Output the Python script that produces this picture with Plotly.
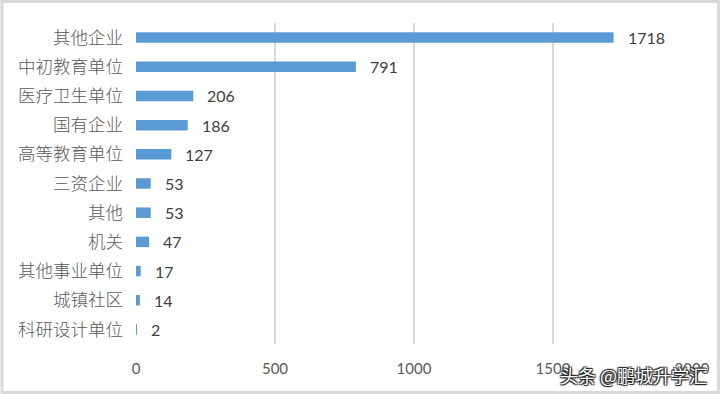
import plotly.graph_objects as go

categories = ["其他企业", "中初教育单位", "医疗卫生单位", "国有企业", "高等教育单位",
              "三资企业", "其他", "机关", "其他事业单位", "城镇社区", "科研设计单位"]
values = [1718, 791, 206, 186, 127, 53, 53, 47, 17, 14, 2]
x_ticks = [0, 500, 1000, 1500, 2000]

W, H = 722, 394
L, R, T, B = 136, 28, 23, 50

fig = go.Figure(go.Bar(
    y=categories, x=values, orientation="h",
    marker=dict(color="#5B9BD5", line=dict(width=0)),
    hoverinfo="skip",
))

annotations = []
for c, v in zip(categories, values):
    annotations.append(dict(
        x=v, y=c, xref="x", yref="y", text=str(v), showarrow=False,
        xanchor="left", xshift=12,
        font=dict(family="Lato, Open Sans, sans-serif", size=16, color="#404040"),
    ))

pw = W - L - R
ph = H - T - B
annotations.append(dict(
    x=(W - 11 - L) / pw, y=(H - 375 - B) / ph, xref="paper", yref="paper",
    text="头条 @鹏城升学汇", showarrow=False, xanchor="right", yanchor="middle",
    font=dict(family="Noto Sans CJK SC", size=18, color="white",
              shadow="1px 1px 1px #222, -1px -1px 1px #222, 1px -1px 1px #222, -1px 1px 1px #222"),
))

fig.update_layout(
    width=W, height=H,
    margin=dict(l=L, r=R, t=T, b=B, pad=0),
    paper_bgcolor="white", plot_bgcolor="white",
    bargap=0.64,
    showlegend=False,
    annotations=annotations,
    xaxis=dict(range=[0, 2000], tickvals=x_ticks, ticktext=[str(t) for t in x_ticks],
               showgrid=True, gridcolor="#D9D9D9", gridwidth=1.5, zeroline=False,
               showline=False, ticks="", ticklabelstandoff=14,
               tickfont=dict(family="Lato, Noto Sans CJK SC", size=15, color="#595959")),
    yaxis=dict(autorange="reversed", showgrid=False, zeroline=False, showline=False,
               ticks="", ticklabelstandoff=12,
               tickfont=dict(family="Noto Sans CJK SC", size=17.5, color="#595959", weight=300)),
    shapes=[dict(type="rect", xref="paper", yref="paper",
                 x0=(1.5 - L) / pw, x1=(W - 1.5 - L) / pw,
                 y0=(1.5 - B) / ph, y1=(H - 1.5 - B) / ph,
                 line=dict(color="#D9D9D9", width=3), layer="below")],
)

fig.write_html("out.html", config={"displayModeBar": False}, post_script=(
    "document.body.style.margin='0';document.body.style.overflow='hidden';"
))
